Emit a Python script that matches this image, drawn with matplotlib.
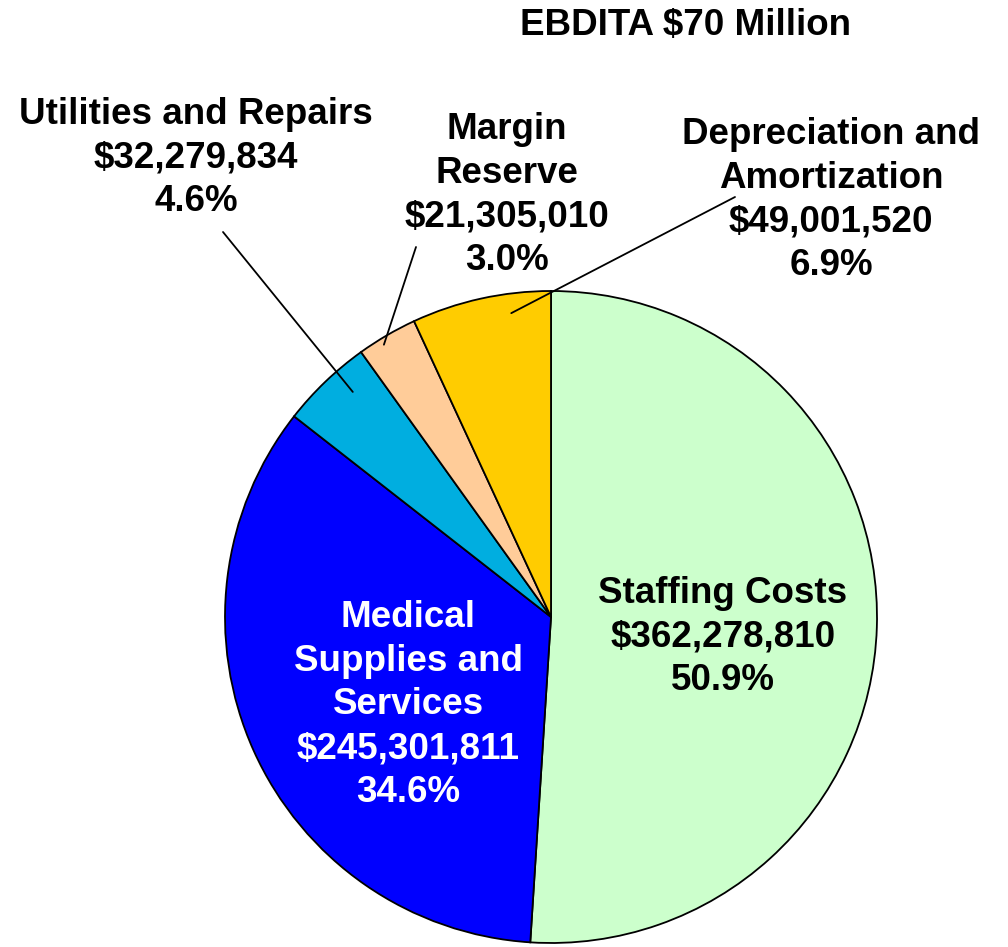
import matplotlib.pyplot as plt
import numpy as np

plt.rcParams['font.family'] = ['Liberation Sans', 'DejaVu Sans']

categories = ['Staffing Costs', 'Medical\nSupplies and\nServices', 'Utilities and Repairs',
              'Margin\nReserve', 'Depreciation and\nAmortization']
values = [362278810, 245301811, 32279834, 21305010, 49001520]
pct_labels = ['50.9%', '34.6%', '4.6%', '3.0%', '6.9%']
colors = ['#CCFFCC', '#0000FF', '#00AEE0', '#FFCC99', '#FFCC00']
subtitle = 'EBDITA $70 Million'

W, H = 1008, 947
fig = plt.figure(figsize=(W / 100, H / 100), dpi=100)
ax = fig.add_axes([0, 0, 1, 1])

cx, cy, R = 551, H - 617, 326
wedges, _ = ax.pie(values, colors=colors, startangle=90, counterclock=False,
                   center=(cx, cy), radius=R, frame=True,
                   wedgeprops=dict(edgecolor='black', linewidth=1.3))
ax.set_xlim(0, W)
ax.set_ylim(0, H)
ax.axis('off')

fs = 26.5
ls = 1.33
labels = [f'{c}\n${v:,}\n{p}' for c, v, p in zip(categories, values, pct_labels)]

# inside labels
ax.text(723, H - 637, labels[0], ha='center', va='center', fontsize=fs,
        fontweight='bold', color='black', linespacing=ls)
ax.text(408, H - 705, labels[1], ha='center', va='center', fontsize=fs,
        fontweight='bold', color='white', linespacing=ls)

# outside labels with leader lines: (text pos, line start, fraction along wedge, radius frac)
outside = {
    2: ((196, 158), (223, 232), 0.35, 0.92),
    3: ((507, 195), (416, 247), 0.62, 0.98),
    4: ((831, 200), (735, 197), 0.3, 0.94),
}
for i, (tpos, lstart, f, rf) in outside.items():
    ax.text(tpos[0], H - tpos[1], labels[i], ha='center', va='center', fontsize=fs,
            fontweight='bold', color='black', linespacing=ls)
    w = wedges[i]
    ang = np.deg2rad(w.theta1 + f * (w.theta2 - w.theta1))
    xy = (cx + rf * R * np.cos(ang), cy + rf * R * np.sin(ang))
    ax.annotate('', xy=xy, xytext=(lstart[0], H - lstart[1]),
                arrowprops=dict(arrowstyle='-', color='black', lw=1.3,
                                shrinkA=0, shrinkB=0))

ax.text(686, H - 25, subtitle, ha='center', va='center', fontsize=fs,
        fontweight='bold', color='black')

fig.savefig('out.png', dpi=100)
